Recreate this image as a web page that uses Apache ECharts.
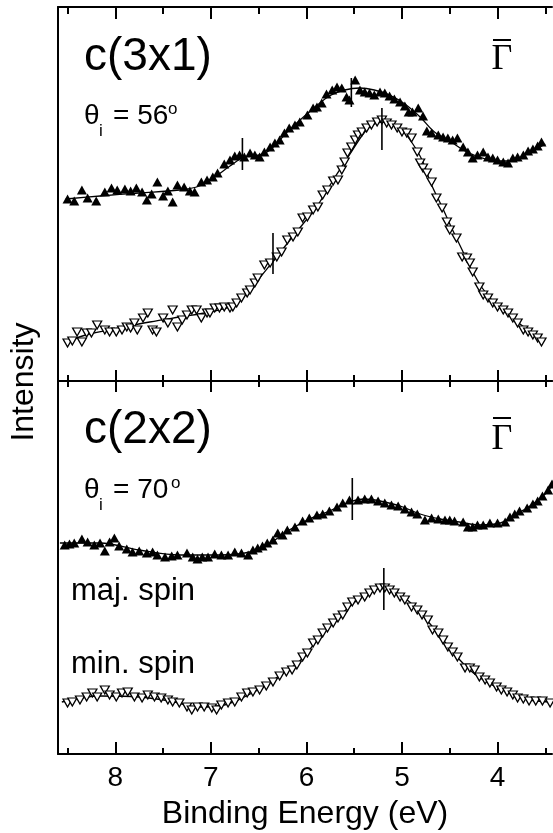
<!DOCTYPE html>
<html>
<head>
<meta charset="utf-8">
<script src="https://cdn.jsdelivr.net/npm/echarts@6/dist/echarts.min.js"></script>
<style>html,body{margin:0;padding:0;background:#fff}#chart{width:553px;height:833px}</style>
</head>
<body>
<div id="chart"></div>
<script>
// ---- tick values (Binding Energy, eV) ----
const majorTicks = [4, 5, 6, 7, 8];
const minorTicks = [3.5, 4.5, 5.5, 6.5, 7.5, 8.5];

// ---- c(3x1), theta_i = 56 deg : majority spin (filled up-triangles) ----
const topMajE = [8.50,8.43,8.35,8.29,8.20,8.11,8.04,7.98,7.90,7.84,7.78,7.72,7.67,7.62,7.56,7.50,7.45,7.40,7.35,7.28,7.22,7.17,7.10,7.04,6.98,6.93,6.86,6.80,6.75,6.70,6.65,6.59,6.54,6.49,6.44,6.38,6.33,6.28,6.23,6.18,6.12,6.07,5.99,5.93,5.89,5.84,5.79,5.73,5.68,5.63,5.58,5.55,5.49,5.44,5.39,5.34,5.29,5.23,5.18,5.13,5.08,5.02,4.97,4.93,4.89,4.83,4.78,4.74,4.69,4.62,4.57,4.52,4.47,4.42,4.36,4.31,4.26,4.21,4.15,4.10,4.05,4.00,3.94,3.89,3.84,3.79,3.73,3.68,3.63,3.58,3.54];
const topMajI = [182,180,191,183,180,189,193,191,192,190,193,189,181,187,199,185,190,179,196,194,190,189,199,201,204,208,217,221,225,226,224,228,226,224,229,234,238,241,248,253,256,259,266,273,274,278,287,291,294,293,284,281,301,291,289,288,286,289,288,285,282,279,275,269,269,273,265,250,248,246,244,243,241,243,234,229,223,226,229,224,223,221,219,218,223,224,226,230,232,235,239];
const topMajFitE = [8.52,8.16,7.75,7.33,7.12,6.96,6.80,6.65,6.49,6.38,6.18,5.97,5.76,5.60,5.44,5.29,5.13,4.97,4.81,4.66,4.50,4.34,4.19,4.03,3.87,3.71,3.50];
const topMajFitI = [182,185,188,191,195,204,215,224,226,231,251,269,285,291,293,291,286,277,264,249,240,230,224,220,220,226,237];

// ---- c(3x1) : minority spin (open down-triangles) ----
const topMinE = [8.50,8.45,8.40,8.35,8.30,8.25,8.19,8.11,8.06,7.99,7.93,7.88,7.84,7.80,7.77,7.71,7.66,7.61,7.57,7.50,7.45,7.40,7.35,7.30,7.25,7.20,7.15,7.10,7.04,7.01,6.96,6.91,6.86,6.80,6.77,6.73,6.68,6.62,6.59,6.54,6.51,6.44,6.38,6.31,6.26,6.20,6.14,6.09,6.04,5.99,5.93,5.88,5.83,5.78,5.72,5.67,5.63,5.60,5.57,5.53,5.49,5.46,5.42,5.37,5.32,5.26,5.21,5.16,5.11,5.05,5.00,4.95,4.90,4.84,4.81,4.78,4.74,4.69,4.64,4.58,4.53,4.50,4.43,4.37,4.32,4.29,4.26,4.19,4.15,4.10,4.05,4.00,3.94,3.89,3.84,3.79,3.73,3.68,3.63,3.58,3.54];
const topMinI = [38,40,49,39,48,48,56,51,49,49,51,54,53,58,51,63,68,51,49,63,58,71,54,61,66,71,71,63,68,68,73,73,74,73,74,78,83,88,91,98,103,116,118,124,129,141,144,149,163,164,171,174,186,191,200,201,211,219,228,234,241,246,249,253,256,259,261,258,256,253,249,248,243,229,218,213,208,199,183,173,159,151,143,124,123,118,109,94,86,83,78,74,71,68,63,58,51,49,46,43,39];
const topMinFitE = [8.52,8.27,7.96,7.64,7.33,7.01,6.78,6.65,6.49,6.33,6.18,6.02,5.86,5.72,5.55,5.39,5.29,5.20,5.11,5.00,4.90,4.79,4.69,4.58,4.48,4.37,4.27,4.16,4.03,3.87,3.71,3.54];
const topMinFitI = [39,47,53,59,64,69,75,85,103,122,140,159,179,201,226,249,257,259,257,251,239,221,196,174,153,131,111,93,78,65,53,40];

// ---- c(2x2), theta_i = 70 deg : majority spin ----
const botMajE = [8.53,8.48,8.43,8.35,8.29,8.22,8.16,8.11,8.06,8.01,7.96,7.88,7.82,7.75,7.67,7.61,7.56,7.48,7.41,7.35,7.25,7.19,7.14,7.09,7.03,6.96,6.89,6.82,6.75,6.68,6.61,6.56,6.51,6.46,6.41,6.35,6.30,6.25,6.20,6.12,6.04,5.97,5.89,5.83,5.76,5.68,5.62,5.55,5.46,5.39,5.32,5.25,5.18,5.11,5.04,4.97,4.90,4.84,4.76,4.69,4.62,4.55,4.50,4.45,4.36,4.31,4.26,4.21,4.15,4.08,4.00,3.92,3.87,3.82,3.77,3.69,3.63,3.58,3.53,3.47,3.43];
const botMajI = [209,210,211,215,212,209,211,203,212,216,208,205,202,203,201,202,199,197,198,199,201,197,195,197,197,200,199,199,202,201,199,204,206,208,211,214,221,219,224,227,233,236,239,240,243,247,251,254,254,255,255,253,251,249,248,245,242,240,234,236,235,234,234,233,232,227,227,229,229,231,231,232,237,240,243,246,250,253,258,264,270];
const botMajFitE = [8.58,8.16,7.75,7.33,6.91,6.59,6.38,6.18,5.97,5.76,5.55,5.39,5.23,5.02,4.81,4.60,4.40,4.19,3.97,3.82,3.66,3.50,3.42];
const botMajFitI = [211,211,204,199,199,202,211,224,235,243,252,255,253,248,240,235,232,229,231,239,248,260,270];

// ---- c(2x2) : minority spin ----
const botMinE = [8.50,8.45,8.37,8.30,8.24,8.19,8.11,8.06,7.99,7.93,7.87,7.80,7.72,7.66,7.59,7.52,7.45,7.40,7.33,7.25,7.20,7.14,7.07,6.99,6.94,6.89,6.82,6.75,6.68,6.62,6.56,6.49,6.42,6.35,6.28,6.21,6.15,6.10,6.04,5.99,5.93,5.88,5.83,5.78,5.72,5.67,5.62,5.57,5.52,5.46,5.39,5.34,5.29,5.23,5.18,5.13,5.08,5.02,4.97,4.90,4.84,4.79,4.73,4.68,4.62,4.57,4.52,4.47,4.42,4.34,4.29,4.24,4.19,4.13,4.08,4.01,3.96,3.90,3.84,3.79,3.73,3.67,3.60,3.53,3.45];
const botMinI = [51,52,54,57,61,57,64,59,57,61,62,57,56,59,57,56,54,52,51,47,44,47,47,46,44,49,51,52,57,61,62,64,68,72,78,82,84,89,97,101,111,114,121,126,131,136,139,147,152,154,157,161,164,166,166,164,161,157,154,147,144,139,134,124,121,114,107,102,97,86,86,84,77,74,71,67,64,62,59,56,55,53,53,53,51];
const botMinFitE = [8.56,8.16,7.75,7.43,7.12,6.86,6.65,6.44,6.23,6.07,5.91,5.76,5.60,5.44,5.32,5.20,5.08,4.92,4.76,4.60,4.45,4.29,4.13,3.97,3.82,3.66,3.42];
const botMinFitI = [52,58,57,53,47,49,57,68,82,93,111,128,143,156,163,166,163,152,136,118,100,84,73,65,59,54,52];

// ---- peak-position markers: energy, low, high ----
const topPeakE = [6.67, 5.53, 5.21, 6.35];
const topPeakLow = [211, 274, 231, 107];
const topPeakHigh = [243, 303, 273, 148];
const botPeakE = [5.52, 5.19];
const botPeakLow = [234, 144];
const botPeakHigh = [276, 186];

const pairs = (a, b) => a.slice(0, Math.min(a.length, b.length)).map((e, i) => [e, b[i]]);
const triples = (a, b, c) => a.map((e, i) => [e, b[i], c[i]]);

const SANS = '"Liberation Sans", Arial, Helvetica, sans-serif';
const SERIF = '"Liberation Serif", "Times New Roman", serif';
const XMIN = 3.43, XMAX = 8.6;

function xAx(grid, pos, vals, len, line, label) {
  return {
    type: 'value', gridIndex: grid, position: pos, min: XMIN, max: XMAX, inverse: true,
    axisLine: { show: line, onZero: false, lineStyle: { color: '#000', width: 2 } },
    axisTick: { show: true, inside: true, length: len, customValues: vals, lineStyle: { color: '#000', width: 2 } },
    minorTick: { show: false },
    splitLine: { show: false },
    axisLabel: label ? { show: true, customValues: majorTicks, color: '#000', fontSize: 28, fontFamily: SANS, margin: 10 } : { show: false },
    name: label ? 'Binding Energy (eV)' : '',
    nameLocation: 'middle', nameGap: 44,
    nameTextStyle: { color: '#000', fontSize: 32, fontFamily: SANS }
  };
}
function yAx(grid, max) {
  return {
    type: 'value', gridIndex: grid, min: 0, max: max,
    axisLine: { show: true, lineStyle: { color: '#000', width: 2 } },
    axisTick: { show: false }, axisLabel: { show: false }, splitLine: { show: false }
  };
}
function fit(xi, e, v) {
  return { type: 'line', xAxisIndex: xi, yAxisIndex: xi === 0 ? 0 : 1, data: pairs(e, v), smooth: 0.35,
    showSymbol: false, symbol: 'none', clip: false, silent: true,
    lineStyle: { color: '#000', width: 1.3 }, z: 2 };
}
function pts(xi, e, v, open) {
  return { type: 'scatter', xAxisIndex: xi, yAxisIndex: xi === 0 ? 0 : 1, data: pairs(e, v), clip: false,
    symbol: 'triangle', symbolRotate: open ? 180 : 0, symbolSize: open ? [9, 8] : [10, 9],
    itemStyle: open ? { color: '#fff', borderColor: '#000', borderWidth: 1.3, opacity: 1 } : { color: '#000', opacity: 1 },
    z: 3 };
}
function peaks(xi, e, lo, hi) {
  return { type: 'custom', xAxisIndex: xi, yAxisIndex: xi === 0 ? 0 : 1, data: triples(e, lo, hi),
    encode: { x: 0, y: [1, 2] }, clip: false, z: 4,
    renderItem: function (params, api) {
      const a = api.coord([api.value(0), api.value(1)]);
      const b = api.coord([api.value(0), api.value(2)]);
      return { type: 'line', shape: { x1: a[0], y1: a[1], x2: b[0], y2: b[1] }, style: { stroke: '#000', lineWidth: 1.6 } };
    } };
}
function txt(x, y, s, size, fam, align, rot) {
  return { type: 'text', x: x, y: y, rotation: rot || 0, z: 10,
    style: { text: s, fill: '#000', font: size + 'px ' + fam, align: align || 'left', verticalAlign: 'middle' } };
}

const chart = echarts.init(document.getElementById('chart'), null, { renderer: 'canvas' });
chart.setOption({
  animation: false,
  backgroundColor: '#fff',
  grid: [
    { left: 58, right: 1, top: 7, height: 374, outerBoundsMode: 'none', containLabel: false },
    { left: 58, right: 1, top: 381, height: 373, outerBoundsMode: 'none', containLabel: false }
  ],
  xAxis: [
    xAx(0, 'bottom', majorTicks, 11, true, false),   // 0 series axis, top panel
    xAx(1, 'bottom', majorTicks, 12, true, true),    // 1 series axis, bottom panel (labels)
    xAx(0, 'bottom', minorTicks, 6, false, false),
    xAx(0, 'top', majorTicks, 12, true, false),
    xAx(0, 'top', minorTicks, 7, false, false),
    xAx(1, 'bottom', minorTicks, 6, false, false),
    xAx(1, 'top', majorTicks, 11, true, false),
    xAx(1, 'top', minorTicks, 6, false, false)
  ],
  yAxis: [yAx(0, 374), yAx(1, 373)],
  series: [
    fit(0, topMajFitE, topMajFitI),
    fit(0, topMinFitE, topMinFitI),
    fit(1, botMajFitE, botMajFitI),
    fit(1, botMinFitE, botMinFitI),
    pts(0, topMajE, topMajI, false),
    pts(0, topMinE, topMinI, true),
    pts(1, botMajE, botMajI, false),
    pts(1, botMinE, botMinI, true),
    peaks(0, topPeakE, topPeakLow, topPeakHigh),
    peaks(1, botPeakE, botPeakLow, botPeakHigh)
  ],
  graphic: [
    txt(24, 382, 'Intensity', 32, SANS, 'center', Math.PI / 2),
    txt(84, 57, 'c(3x1)', 46, SANS),
    txt(84, 116, 'θ', 28, SANS),
    txt(99, 131, 'i', 17, SANS),
    txt(113, 116, '= 56', 28, SANS),
    txt(168, 109, 'o', 17, SANS),
    txt(502, 60, 'Γ', 36, SERIF, 'center'),
    { type: 'line', z: 10, shape: { x1: 493, y1: 40, x2: 511, y2: 40 }, style: { stroke: '#000', lineWidth: 2 } },
    txt(84, 430, 'c(2x2)', 46, SANS),
    txt(84, 490, 'θ', 28, SANS),
    txt(99, 505, 'i', 17, SANS),
    txt(113, 490, '= 70', 28, SANS),
    txt(171, 483, 'o', 17, SANS),
    txt(502, 440, 'Γ', 36, SERIF, 'center'),
    { type: 'line', z: 10, shape: { x1: 493, y1: 418, x2: 511, y2: 418 }, style: { stroke: '#000', lineWidth: 2 } },
    txt(71, 591, 'maj. spin', 31, SANS),
    txt(71, 664, 'min. spin', 31, SANS)
  ]
});
</script>
</body>
</html>
